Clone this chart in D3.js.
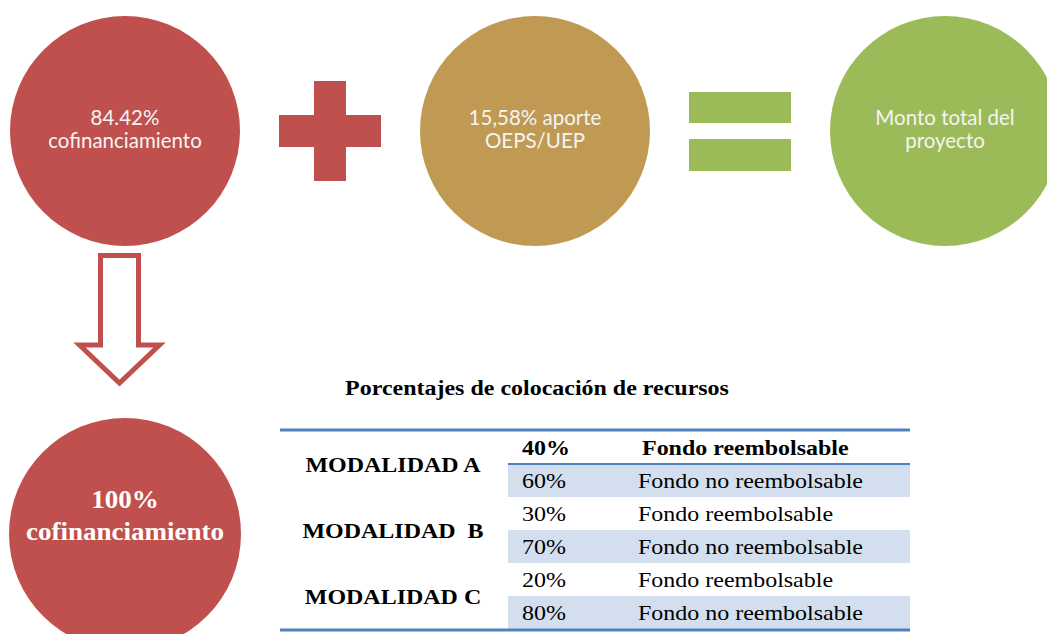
<!DOCTYPE html>
<html><head><meta charset="utf-8">
<script src="https://cdnjs.cloudflare.com/ajax/libs/d3/7.8.5/d3.min.js"></script>
<style>html,body{margin:0;padding:0;background:#fff;}svg{display:block;}</style>
</head><body>
<script>
// ---- data ----
const topCircleLabels = [["84.42%", "cofinanciamiento"], ["15,58% aporte", "OEPS/UEP"], ["Monto total del", "proyecto"]];
const topCircleColors = ["#C0504D", "#C09A52", "#9BBB59"];
const bottomCircleLabel = ["100%", "cofinanciamiento"];
const tableTitle = "Porcentajes de colocación de recursos";
const modalidades = ["MODALIDAD A", "MODALIDAD  B", "MODALIDAD C"];
const pctReembolsable = [40, 30, 20];
const pctNoReembolsable = [60, 70, 80];
const fondoLabels = ["Fondo reembolsable", "Fondo no reembolsable"];

const W = 1047, H = 634;
const svg = d3.select("body").append("svg").attr("width", W).attr("height", H);
const serif = "'Liberation Serif', 'Times New Roman', serif";
const SX = 1.09; // horizontal stretch of the serif text in the reference

// helper: serif text stretched horizontally
function sText(parent, x, y, str, opts) {
  const t = parent.append("text")
    .attr("transform", `translate(${x},${y}) scale(${opts.sx || SX},1)`)
    .attr("font-family", serif).attr("font-size", opts.size || 22)
    .attr("font-weight", opts.bold ? "bold" : "normal")
    .attr("text-anchor", opts.anchor || "start")
    .attr("fill", opts.fill || "#000")
    .attr("xml:space", "preserve").style("white-space", "pre")
    .text(str);
  return t;
}

// ---- top row: circles with operators ----
const xTop = d3.scalePoint().domain([0, 1, 2]).range([125, 945]);
const yTop = 131, R = 115;
const topG = svg.append("g");
topG.selectAll("circle").data(topCircleLabels).join("circle")
  .attr("cx", (d, i) => xTop(i)).attr("cy", yTop).attr("r", R)
  .attr("fill", (d, i) => topCircleColors[i]);
topCircleLabels.forEach((lines, i) => {
  const t = topG.append("text").attr("text-anchor", "middle")
    .attr("font-family", "Lato, 'Open Sans', sans-serif").attr("font-size", 20.5)
    .attr("fill", "#F4F4F4");
  lines.forEach((l, j) => t.append("tspan").attr("x", xTop(i)).attr("y", 125 + j * 23).text(l));
});
// plus sign
const plusC = [330, 131];
svg.append("rect").attr("x", plusC[0] - 51).attr("y", plusC[1] - 16).attr("width", 102).attr("height", 32).attr("fill", "#C0504D");
svg.append("rect").attr("x", plusC[0] - 16).attr("y", plusC[1] - 50).attr("width", 32).attr("height", 100).attr("fill", "#C0504D");
// equals sign
svg.append("rect").attr("x", 689).attr("y", 92).attr("width", 102).attr("height", 31).attr("fill", "#9BBB59");
svg.append("rect").attr("x", 689).attr("y", 139).attr("width", 102).attr("height", 32).attr("fill", "#9BBB59");

// ---- down arrow (outline) ----
const ax = 119.5;
const arrow = [[ax - 19, 255.5], [ax + 19, 255.5], [ax + 19, 345], [ax + 40, 345], [ax, 383], [ax - 40, 345], [ax - 19, 345]];
svg.append("path").attr("d", d3.line()(arrow) + "Z")
  .attr("fill", "#fff").attr("stroke", "#C0504D").attr("stroke-width", 5).attr("stroke-linejoin", "miter");

// ---- bottom circle ----
svg.append("circle").attr("cx", 125).attr("cy", 534).attr("r", 116).attr("fill", "#C0504D");
bottomCircleLabel.forEach((l, j) =>
  sText(svg, 125, 508 + j * 32, l, { size: 26, bold: true, anchor: "middle", fill: "#fff", sx: 1.04 }));

// ---- table ----
sText(svg, 537, 395, tableTitle, { bold: true, anchor: "middle" });

const rows = [];
modalidades.forEach((m, i) => {
  rows.push({ pct: pctReembolsable[i], label: fondoLabels[0], m: i, shade: false });
  rows.push({ pct: pctNoReembolsable[i], label: fondoLabels[1], m: i, shade: true });
});
const tx0 = 280, tx1 = 910, cellX = 508;
const yRow = d3.scaleBand().domain(d3.range(rows.length)).range([431, 629]);
const tg = svg.append("g");
tg.selectAll("rect.shade").data(rows.filter(r => r.shade)).join("rect")
  .attr("class", "shade")
  .attr("x", cellX).attr("width", tx1 - cellX)
  .attr("y", d => yRow(rows.indexOf(d))).attr("height", yRow.bandwidth())
  .attr("fill", "#D3DFEE");
rows.forEach((r, i) => {
  const yb = yRow(i) + yRow.bandwidth() / 2 + 7;
  sText(tg, 522, yb, r.pct + "%", { bold: i === 0 });
  sText(tg, i === 0 ? 642 : 638, yb, r.label, { bold: i === 0 });
});
modalidades.forEach((m, i) => {
  const yc = (yRow(2 * i) + yRow(2 * i + 1) + yRow.bandwidth()) / 2;
  sText(tg, 393, yc + 8, m, { bold: true, anchor: "middle" });
});
// rules
tg.append("line").attr("x1", tx0).attr("x2", tx1).attr("y1", 430).attr("y2", 430).attr("stroke", "#4F81BD").attr("stroke-width", 3);
tg.append("line").attr("x1", cellX).attr("x2", tx1).attr("y1", yRow(1)).attr("y2", yRow(1)).attr("stroke", "#4F81BD").attr("stroke-width", 2);
tg.append("line").attr("x1", tx0).attr("x2", tx1).attr("y1", 630).attr("y2", 630).attr("stroke", "#4F81BD").attr("stroke-width", 3);
</script>
</body></html>
